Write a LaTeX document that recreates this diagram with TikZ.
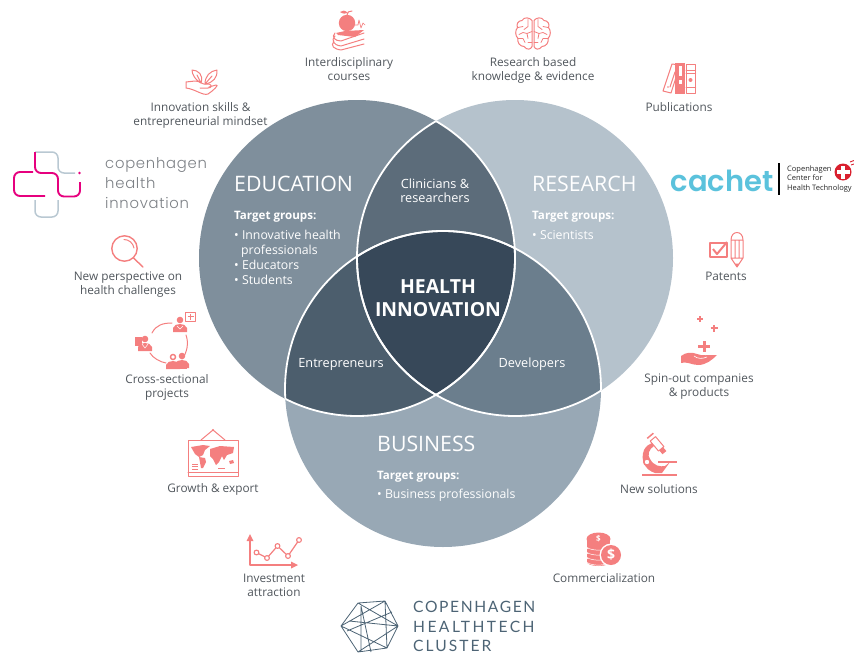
\documentclass[tikz,border=0pt]{standalone}
\usepackage{fontspec}
\setmainfont{Open Sans}
\newfontfamily\thinfont[LetterSpace=5]{Poppins Light}
\newfontfamily\clusterfont[LetterSpace=13]{Lato}
\newfontfamily\cachetfont{Poppins}[BoldFont=* SemiBold]
\usetikzlibrary{arrows.meta}
\definecolor{edu}{HTML}{7F8F9C}
\definecolor{res}{HTML}{B5C2CC}
\definecolor{bus}{HTML}{98A8B5}
\definecolor{er}{HTML}{5C6C7A}
\definecolor{eb}{HTML}{4C5E6D}
\definecolor{rb}{HTML}{6B7E8D}
\definecolor{core}{HTML}{374859}
\definecolor{ico}{HTML}{F47F7F}
\definecolor{lab}{HTML}{50565C}
\definecolor{chip}{HTML}{E6007E}
\definecolor{chig}{HTML}{B9C8D2}
\definecolor{hex}{HTML}{4D6475}
\definecolor{cach}{HTML}{5BC2DC}
\definecolor{cred}{HTML}{D9202E}
\newcommand\hiperson[2]{\fill[ico] (#1,#2) circle[radius=3.3]; \fill[ico] (#1-7,#2+12) -- (#1-7,#2+8) .. controls (#1-6,#2+5) and (#1-3,#2+4) .. (#1,#2+4) .. controls (#1+3,#2+4) and (#1+6,#2+5) .. (#1+7,#2+8) -- (#1+7,#2+12) -- cycle;}
\tikzset{
 x=1pt,y=-1pt,
 lbl/.style={text=lab,align=center,inner sep=0pt,font=\fontsize{11.8}{14}\selectfont},
 wh/.style={text=white,align=left,anchor=west,inner sep=0pt,font=\fontsize{12.3}{15}\selectfont},
 whh/.style={text=white,align=left,anchor=west,inner sep=0pt,font=\fontsize{11.6}{15}\selectfont},
 whc/.style={text=white,align=center,inner sep=0pt,font=\fontsize{12.7}{14}\selectfont},
 ttl/.style={text=white,anchor=west,inner sep=0pt,font=\fontsize{21.3}{21}\selectfont},
 ln/.style={draw=ico,line width=1pt,line join=round,line cap=round},
 chit/.style={anchor=base west,inner sep=0pt,text=lab!75,font=\thinfont\fontsize{14.8}{15}\selectfont},
 clt/.style={anchor=base west,inner sep=0pt,text=hex},
}
\begin{document}
\begin{tikzpicture}
\useasboundingbox (0,0) rectangle (854,653);
\def\discE{(357,258) circle[radius=158]}
\def\discR{(515,258) circle[radius=158]}
\def\discB{(443,389) circle[radius=158]}
% discs
\fill[edu] \discE; \fill[res] \discR; \fill[bus] \discB;
\begin{scope}\clip \discE; \fill[er] \discR; \fill[eb] \discB; \clip \discR; \fill[core] \discB; \end{scope}
\begin{scope}\clip \discR; \fill[rb] \discB; \clip \discE; \fill[core] \discB; \end{scope}
% inner white arcs
\begin{scope}\clip \discR; \draw[white,line width=1.8pt] \discE; \end{scope}
\begin{scope}\clip \discE; \draw[white,line width=1.8pt] \discR; \end{scope}
\begin{scope}\clip \discE; \draw[white,line width=1.8pt] \discB; \end{scope}
\begin{scope}\clip \discR; \draw[white,line width=1.8pt] \discB; \end{scope}
\begin{scope}\clip \discB; \draw[white,line width=1.8pt] \discE; \draw[white,line width=1.8pt] \discR; \end{scope}
% venn text
\node[ttl] (tedu) at (234,184) {EDUCATION};
\node[ttl] (tres) at (532,184) {RESEARCH};
\node[ttl] (tbus) at (377,444) {BUSINESS};
\node[whh] (ge1) at (234,217) {\textbf{Target groups:}};
\node[wh] (ge2) at (234,257.5) {• Innovative health\\\hspace*{7pt}professionals\\• Educators\\• Students};
\node[whh] (gr1) at (532,217) {\textbf{Target groups:}};
\node[wh] (gr2) at (532,235) {• Scientists};
\node[whh] (gb1) at (377,477) {\textbf{Target groups:}};
\node[wh] (gb2) at (377,495) {• Business professionals};
\node[whc] (tcl) at (435,191) {Clinicians \&\\researchers};
\node[whc] (tent) at (341,364) {Entrepreneurs};
\node[whc] (tdev) at (532,364) {Developers};
\node[text=white,align=center,inner sep=0pt,font=\fontsize{19.4}{23.5}\selectfont\bfseries] (tcore) at (438,298) {HEALTH\\INNOVATION};
% outer labels
\node[lbl] (l1) at (349,69.5) {Interdisciplinary\\courses};
\node[lbl] (l2) at (200.5,115) {Innovation skills \&\\entrepreneurial mindset};
\node[lbl] (l3) at (533,70) {Research based\\knowledge \& evidence};
\node[lbl] (l4) at (679,107) {Publications};
\node[lbl] (l5) at (128,285) {New perspective on\\health challenges};
\node[lbl] (l6) at (167,387) {Cross-sectional\\projects};
\node[lbl] (l7) at (213,489) {Growth \& export};
\node[lbl] (l8) at (274,585) {Investment\\attraction};
\node[lbl] (l9) at (604,578) {Commercialization};
\node[lbl] (l10) at (659,489) {New solutions};
\node[lbl] (l11) at (699,387) {Spin-out companies\\\& products};
\node[lbl] (l12) at (726,276) {Patents};
% apple + books
\fill[ico] (347,23) circle[radius=8.2];
\draw[ln] (347,15) .. controls (347,12) and (349,11) .. (352,11);
\fill[ico] (348,13) .. controls (345,10) and (342,10) .. (340,12) .. controls (343,14) and (345,14) .. (348,13) -- cycle;
\draw[ln,line width=.7pt] (355,25) -- (358,25) -- (359,20) -- (361,28) -- (363,23) -- (365,25);
\fill[ico] (336,33) -- (345,31) -- (364,30) -- (355,37) -- (338,35) -- cycle;
\draw[ln] (364,33) -- (341,41) .. controls (335,41) and (331,37) .. (335,33) (335,36) .. controls (331,40) and (333,45) .. (341,46) -- (364,39)
 (334,41) .. controls (330,46) and (334,49) .. (341,50) -- (364,44);
% leaves in hand
\draw[ln] (186,88) -- (186,82) -- (195,81) .. controls (200,81) and (202,84) .. (204,84) -- (209,84) .. controls (212,85) and (212,88) .. (208,88) -- (200,88)
 (209,87) -- (216,85) .. controls (220,84) and (213,91) .. (208,94) .. controls (203,96) and (195,89) .. (186,88);
\draw[ln] (201,83) .. controls (195,80) and (192,74) .. (192,70) .. controls (198,70) and (204,75) .. (201,83) -- (197,75);
\draw[ln] (205,84) .. controls (205,76) and (210,71) .. (217,70) .. controls (218,77) and (213,83) .. (205,84) -- (212,76);
% brain
\foreach \s in {1,-1}{
 \begin{scope}[shift={(533,33.5)},xscale=\s]
 \draw[ln] (1,-13) .. controls (3,-16) and (9,-17) .. (11,-13) .. controls (15,-13) and (17,-9) .. (15.5,-6) .. controls (18,-3) and (18,2) .. (15,5) .. controls (16,9) and (13,13) .. (9,13) .. controls (6,17) and (2,16) .. (1,13) -- cycle;
 \draw[ln,line width=.8pt] (5,-14) -- (5,-7) -- (9,-4) (15,-6) -- (10,-7) (1,-2) -- (6,0) -- (10,-1) -- (14,1) (6,0) -- (5,5) (15,5) -- (10,5) -- (8,9) (1,9) -- (5,9);
 \end{scope}}
% publication books
\draw[ln] (672,64) -- (680,65) -- (671,93) -- (663,91) -- cycle (675,72) -- (670,87);
\fill[ico] (668,87) circle[radius=.9];
\fill[ico] (675,63) rectangle (685,94);
\fill[white] (678.5,66) rectangle (681.5,76);
\fill[white] (678.5,80) rectangle (681.5,84);
\draw[ln] (686,64) rectangle (695.5,93) (686,70) -- (695.5,70) (686,73) -- (695.5,73) (686,87) -- (695.5,87) ;
\fill[ico] (690.5,80) circle[radius=2];
% cachet logo
\node[anchor=base west,inner sep=0pt,text=cach,font=\cachetfont\bfseries\fontsize{29}{29}\selectfont] (cachet) at (670.5,191.5) {cachet};
\fill[black] (778.3,163) rectangle (780,195);
\node[anchor=west,align=left,inner sep=0pt,text=black!85,font=\fontsize{7.5}{9.2}\selectfont] (cctxt) at (787,179) {Copenhagen\\Center for\\Health Technology};
\fill[cred] (843,172) circle[radius=8.5];
\fill[white] (841,165.5) rectangle (845,178.5);
\fill[white] (836.5,170) rectangle (849.5,174);
\draw[cred,line width=.9pt] (850,162) -- (854,160.5) (851,165) -- (854,164);
% chi logo
\draw[chig,line width=1.5pt,rounded corners=6pt] (35,152) -- (58,152) -- (58,173) -- (75,173);
\draw[chig,line width=1.5pt,rounded corners=6pt] (35,200) -- (35,217) -- (58,217) -- (58,200);
\draw[chip,line width=1.9pt,rounded corners=6pt] (35,152) -- (35,173) -- (58,173) -- (58,196.5) -- (80,196.5) -- (80,182);
\draw[chip,line width=1.9pt,rounded corners=6pt] (33,172) -- (14,172) -- (14,196) -- (45,196);
\fill[chip] (79.5,173) circle[radius=1.4];
\node[chit] (ch1) at (105,168) {copenhagen};
\node[chit] (ch2) at (105,188) {health};
\node[chit] (ch3) at (105,208) {innovation};
% magnifier
\draw[ln,line width=1.4pt] (124.5,248.5) circle[radius=12.7];
\draw[ln,line width=1.4pt] (133.5,258) -- (143,267);
\draw[ln] (124,239.5) .. controls (129,239.5) and (133,243) .. (134,248);
% cross-sectional ring
\draw[ln] (152,333) .. controls (156,325) and (163,323) .. (172,323);
\draw[ln] (186,335) .. controls (189,343) and (187,353) .. (182,359);
\draw[ln] (166,363) .. controls (160,362) and (153,358) .. (150,353);
\hiperson{180}{320}
\draw[white,line width=.5pt] (177,326) -- (180,329) -- (183,326);
\draw[ln] (185.5,312) rectangle (195.5,321);
\draw[ico,line width=1.4pt] (190.5,313.5) -- (190.5,319.5) (187.5,316.5) -- (193.5,316.5);
\hiperson{145}{339}
\fill[ico] (134.5,337) rectangle (142,346);
\draw[white,line width=.5pt] (142,344) -- (145,348) -- (148,344);
\hiperson{173}{357}
\hiperson{182}{356}
\fill[ico] (169,368) rectangle (187,369);
\fill[white] (173,357) circle[radius=1.8];
% patents
\draw[ln,line width=1.2pt] (710,243) rectangle (727,257);
\draw[ico,line width=2pt,line join=round] (713,249) -- (717,254) -- (727,242);
\draw[ln] (731,240) .. controls (731,230) and (743,230) .. (743,240) -- (743,258) -- (737,267) -- (731,258) -- cycle
 (731,240) -- (743,240) (731,258) -- (743,258) (735,240) -- (735,258) (739,240) -- (739,258);
\fill[ico] (737,267) -- (734.5,263.5) -- (739.5,263.5) -- cycle;
% spin-out
\draw[ico,line width=1.5pt] (700,316) -- (700,322) (697,319) -- (703,319);
\draw[ico,line width=1.9pt] (714,325) -- (714,332) (710.5,328) -- (717.5,328);
\draw[ico,line width=3pt] (704,341) -- (704,352) (698,346.5) -- (710,346.5);
\fill[ico] (681,363) -- (681,356) .. controls (686,352) and (692,352) .. (697,354) .. controls (702,356) and (708,355) .. (717,355) .. controls (712,360) and (706,365) .. (698,365) .. controls (692,365) and (686,361) .. (681,363) -- cycle;
\draw[white,line width=.6pt] (694,356) .. controls (698,359) and (702,359) .. (707,357);
% microscope
\fill[ico] (642,474) rectangle (677,476);
\fill[ico] (655,473) .. controls (645,470) and (640,460) .. (644,450) .. controls (646,446) and (649,444) .. (652,443) -- (654,446) .. controls (649,449) and (647,455) .. (650,459) .. controls (654,466) and (660,467) .. (665,466) -- (670,462) -- (662,473) -- cycle;
\fill[ico] (658,460.5) rectangle (677,462.5);
\fill[white] (647,462) circle[radius=2.2];
\draw[ico,line width=1pt] (647,462) circle[radius=3.5];
\begin{scope}[shift={(658,445)},rotate=40]
\draw[ln] (-3.5,-8) rectangle (3.5,5);
\fill[ico] (-2.5,5) rectangle (2.5,10);
\draw[ico,line width=1.5pt] (-4,-12) -- (4,-12);
\end{scope}
% map
\draw[ln] (188,440.5) rectangle (238,476);
\draw[ln] (188,472.5) -- (238,472.5);
\draw[ln] (201,440) -- (213,430) -- (225,440);
\fill[ico] (213,430) circle[radius=1.2];
\fill[ico] (191,447) -- (203,445) -- (210,446) -- (205,450) -- (203,455) -- (199,457) -- (195,454) -- cycle;
\fill[ico] (199,457) -- (205,458) -- (206,462) -- (203,468) -- (201,468) -- cycle;
\fill[ico] (210,449) -- (220,446) -- (234,447) -- (233,453) -- (227,455) -- (224,460) -- (222,456) -- (219,462) -- (216,465) -- (213,459) -- (210,456) -- cycle;
\fill[ico] (229,461) -- (233,460) -- (234,463) -- (230,464) -- cycle;
\draw[ico,line width=.7pt] (192,464) -- (198,464) (192,466.5) -- (198,466.5) (192,469) -- (198,469) (218,468) -- (225,468);
% growth chart
\draw[ln,line width=1.2pt] (250,538) -- (250,565) -- (295,565);
\fill[ico] (250,534) -- (246.5,541) -- (253.5,541) -- cycle;
\fill[ico] (298,565) -- (291,561.5) -- (291,568.5) -- cycle;
\draw[ln,line width=1.2pt] (256.5,552.5) -- (267,558) -- (277.5,546) -- (288,556) -- (299,540);
\foreach \p in {(256.5,552.5),(267,558),(277.5,546),(288,556),(299,540)} \draw[ln,line width=1.1pt,fill=white] \p circle[radius=2.4];
% coins
\foreach \yy in {562,557,552,547}{
 \fill[ico] (587,\yy-3) rectangle (610,\yy);
 \fill[ico] (598.5,\yy) ellipse[x radius=11.5,y radius=4];
 \draw[white,line width=.5pt] (587,\yy+.5) .. controls (592,\yy+4) and (605,\yy+4) .. (610,\yy+.5);}
\fill[ico] (587,539) rectangle (610,547);
\fill[ico] (598.5,539) ellipse[x radius=12,y radius=6.5];
\node[inner sep=0pt,text=white,font=\fontsize{8}{8}\selectfont\bfseries] (cd1) at (598.5,539) {\$};
\fill[white] (611,555) circle[radius=11.5];
\fill[ico] (611,555) circle[radius=10];
\node[inner sep=0pt,text=white,font=\fontsize{14}{14}\selectfont\bfseries] (cd2) at (611,555) {\$};
% cluster logo
\draw[hex,line width=.8pt,line join=round] (358,603) -- (385,601) -- (398,626) -- (387,648) -- (358,652) -- (341,626) -- cycle
 (358,603) -- (398,626) -- (358,652)
 (385,601) -- (387,648) -- (341,626) -- (385,601)
 (361,606) -- (371,652) (361,606) -- (361,651) (349,621) -- (398,626) (347,631) -- (392,612);
% cluster text
\node[clt,font=\clusterfont\addfontfeature{LetterSpace=10.4}\fontsize{15.6}{15.6}\selectfont] (cl1) at (413,612.5) {COPENHAGEN};
\node[clt,font=\clusterfont\addfontfeature{LetterSpace=15.6}\fontsize{15.6}{15.6}\selectfont] (cl2) at (413,632) {HEALTHTECH};
\node[clt,font=\clusterfont\fontsize{15.6}{15.6}\selectfont] (cl3) at (413,651) {CLUSTER};
\end{tikzpicture}
\end{document}
